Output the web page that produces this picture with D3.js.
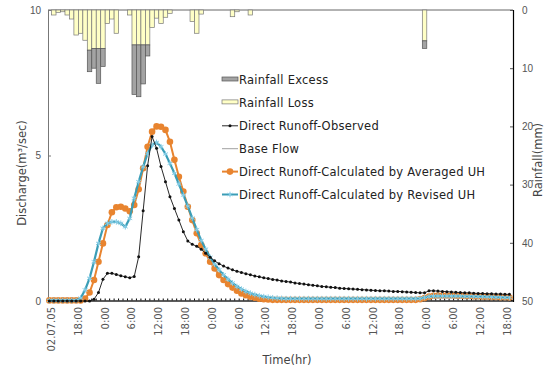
<!DOCTYPE html>
<html>
<head>
<meta charset="utf-8">
<script src="https://cdn.jsdelivr.net/npm/d3@7/dist/d3.min.js"></script>
<style>
  html, body { margin: 0; padding: 0; background: #fff; }
  svg { display: block; font-family: "DejaVu Sans", sans-serif; }
  .tick-label { fill: #555; font-size: 10px; }
  .axis-title { fill: #444; font-size: 11.5px; }
  .legend-text { fill: #222; font-size: 11.5px; letter-spacing: 0.25px; }
</style>
</head>
<body>
<div id="chart"></div>
<script>
'use strict';

// time axis labels, one every 6 hours
var timeLabels = ['02.07.05', '18:00', '0:00', '6:00', '12:00', '18:00', '0:00', '6:00', '12:00',
                  '18:00', '0:00', '6:00', '12:00', '18:00', '0:00', '6:00', '12:00', '18:00'];

// rainfall (mm), hourly bars
var rainHour   = [1, 2, 3, 4, 5, 6, 7, 8, 9, 10, 11, 12, 13, 14, 15, 18, 19, 20, 21, 22, 23, 24, 25, 26, 27, 32, 33, 34, 41, 42, 45, 84];
var rainLoss   = [0.86, 0.4, 0.3, 0.86, 1.55, 4.3, 4.0, 5.2, 6.9, 6.6, 6.6, 6.6, 2.3, 1.55, 4.0, 0.86, 6.0, 6.0, 6.0, 6.0, 3.0, 1.4, 2.3, 1.25, 0.57, 2.0, 4.0, 0.7, 1.15, 0.3, 0.86, 5.3];
var rainExcess = [0, 0, 0, 0, 0, 0, 0, 0, 3.7, 3.4, 6.0, 3.1, 0, 0, 0, 0, 8.5, 8.9, 6.7, 1.9, 0, 0, 0, 0, 0, 0, 0, 0, 0, 0, 0, 1.3];

// discharge (m3/sec), hourly from hour 0
var observed = [
  0, 0, 0, 0, 0, 0, 0, 0, 0, 0,
  0.06, 0.29, 0.75, 0.95, 0.95, 0.91, 0.87, 0.83, 0.8, 0.84,
  1.52, 3.1, 4.65, 5.65, 5.25, 4.62, 4.1, 3.58, 3.18, 2.78,
  2.38, 2.06, 1.95, 1.88, 1.78, 1.64, 1.5, 1.38, 1.28, 1.2,
  1.13, 1.07, 1.02, 0.98, 0.94, 0.9, 0.86, 0.83, 0.8, 0.77,
  0.74, 0.72, 0.69, 0.67, 0.65, 0.62, 0.6, 0.58, 0.56, 0.54,
  0.52, 0.5, 0.49, 0.47, 0.46, 0.44, 0.43, 0.42, 0.41, 0.4,
  0.39, 0.38, 0.37, 0.36, 0.35, 0.35, 0.34, 0.33, 0.33, 0.32,
  0.31, 0.3, 0.29, 0.28, 0.28, 0.35, 0.35, 0.34, 0.33, 0.32,
  0.31, 0.3, 0.29, 0.28, 0.28, 0.27, 0.26, 0.26, 0.25, 0.25,
  0.24, 0.24, 0.23, 0.23
];

var baseFlow = [0, 0];

var calcAveraged = [
  0.02, 0.02, 0.02, 0.02, 0.02, 0.02, 0.02, 0.02, 0.08, 0.29,
  0.72, 1.35, 1.98, 2.61, 3.05, 3.22, 3.24, 3.18, 3.08, 3.3,
  3.84, 4.56, 5.3, 5.82, 6.0, 5.99, 5.88, 5.47, 4.85, 4.27,
  3.76, 3.24, 2.78, 2.33, 1.92, 1.64, 1.35, 1.12, 0.89, 0.72,
  0.58, 0.46, 0.35, 0.26, 0.2, 0.15, 0.11, 0.08, 0.06, 0.05,
  0.04, 0.04, 0.04, 0.04, 0.04, 0.04, 0.04, 0.04, 0.04, 0.04,
  0.04, 0.04, 0.04, 0.04, 0.04, 0.04, 0.04, 0.04, 0.04, 0.04,
  0.04, 0.04, 0.04, 0.04, 0.04, 0.04, 0.04, 0.04, 0.04, 0.04,
  0.04, 0.04, 0.04, 0.06, 0.1, 0.15, 0.18, 0.19, 0.19, 0.19,
  0.19, 0.18, 0.18, 0.17, 0.17, 0.16, 0.16, 0.15, 0.15, 0.14,
  0.14, 0.13, 0.13, 0.12
];

var calcRevised = [
  0.02, 0.02, 0.02, 0.02, 0.02, 0.02, 0.02, 0.1, 0.38, 0.78,
  1.35, 1.98, 2.5, 2.67, 2.72, 2.72, 2.67, 2.55, 2.84, 3.53,
  4.1, 4.61, 5.07, 5.36, 5.45, 5.3, 5.05, 4.73, 4.39, 4.02,
  3.64, 3.26, 2.85, 2.45, 2.08, 1.78, 1.5, 1.27, 1.07, 0.9,
  0.75, 0.62, 0.5, 0.41, 0.33, 0.27, 0.22, 0.18, 0.15, 0.13,
  0.11, 0.1, 0.09, 0.08, 0.08, 0.08, 0.08, 0.08, 0.08, 0.08,
  0.08, 0.08, 0.08, 0.08, 0.08, 0.08, 0.08, 0.08, 0.08, 0.08,
  0.08, 0.08, 0.08, 0.08, 0.08, 0.08, 0.08, 0.08, 0.08, 0.08,
  0.08, 0.08, 0.08, 0.09, 0.12, 0.15, 0.17, 0.17, 0.17, 0.17,
  0.17, 0.17, 0.17, 0.16, 0.16, 0.16, 0.15, 0.15, 0.14, 0.14,
  0.13, 0.13, 0.12, 0.12
];

var legendItems = [
  'Rainfall Excess',
  'Rainfall Loss',
  'Direct Runoff-Observed',
  'Base Flow',
  'Direct Runoff-Calculated by Averaged UH',
  'Direct Runoff-Calculated by Revised UH'
];

var colors = {
  excess: '#a3a3a3',
  loss: '#ffffc6',
  observed: '#111',
  base: '#888',
  averaged: '#e8842f',
  revised: '#3a9db6',
  revisedMark: '#86cde6'
};

draw();

function draw() {

  var width = 544, height = 373;
  var left = 48, right = 513, top = 10, bottom = 301;

  var svg = d3.select('#chart').html('').append('svg')
      .attr('width', width)
      .attr('height', height);

  var x = d3.scaleLinear().domain([-0.3, 103.8]).range([left, right]);
  var yQ = d3.scaleLinear().domain([0, 10]).range([bottom, top]);
  var yR = d3.scaleLinear().domain([0, 50]).range([top, bottom]);

  var hours = d3.range(observed.length);
  var bw = x(1) - x(0);

  // frame
  svg.append('line')
    .attr('x1', left).attr('x2', right)
    .attr('y1', top).attr('y2', top)
    .attr('stroke', '#666').attr('stroke-width', 1);

  // rainfall bars, loss on top, excess below
  var rain = svg.append('g');
  rain.selectAll('rect.loss')
      .data(rainHour)
    .enter().append('rect')
      .attr('class', 'loss')
      .attr('x', function(d) { return x(d - 0.5); })
      .attr('width', bw)
      .attr('y', yR(0))
      .attr('height', function(d, i) { return yR(rainLoss[i]) - yR(0); })
      .attr('fill', colors.loss)
      .attr('stroke', '#777')
      .attr('stroke-width', 0.7);

  rain.selectAll('rect.excess')
      .data(rainHour.filter(function(d, i) { return rainExcess[i] > 0; }))
    .enter().append('rect')
      .attr('class', 'excess')
      .attr('x', function(d) { return x(d - 0.5); })
      .attr('width', bw)
      .attr('y', function(d) { var i = rainHour.indexOf(d); return yR(rainLoss[i]); })
      .attr('height', function(d) {
        var i = rainHour.indexOf(d);
        return yR(rainLoss[i] + rainExcess[i]) - yR(rainLoss[i]);
      })
      .attr('fill', colors.excess)
      .attr('stroke', '#555')
      .attr('stroke-width', 0.7);

  // x axis with hourly minor ticks
  var xAxis = svg.append('g');
  xAxis.append('line')
    .attr('x1', left).attr('x2', right)
    .attr('y1', bottom).attr('y2', bottom)
    .attr('stroke', '#000').attr('stroke-width', 1.5);
  xAxis.selectAll('line.minor')
      .data(d3.range(0, 104))
    .enter().append('line')
      .attr('class', 'minor')
      .attr('x1', function(d) { return x(d + 0.5); })
      .attr('x2', function(d) { return x(d + 0.5); })
      .attr('y1', bottom).attr('y2', bottom - 2.5)
      .attr('stroke', '#000').attr('stroke-width', 1);

  xAxis.selectAll('text')
      .data(timeLabels)
    .enter().append('text')
      .attr('class', 'tick-label')
      .attr('transform', function(d, i) {
        return 'translate(' + (x(i * 6 + 0.5) + 3.5) + ',' + (bottom + 6) + ') rotate(-90)';
      })
      .attr('text-anchor', 'end')
      .text(function(d) { return d; });

  // left axis
  var yAxisL = svg.append('g')
      .attr('transform', 'translate(' + left + ',0)')
      .call(d3.axisLeft(yQ).tickValues([0, 5, 10]).tickSize(-3).tickPadding(7));
  yAxisL.select('.domain').attr('stroke', '#777');
  yAxisL.selectAll('.tick line').attr('stroke', '#777');
  yAxisL.selectAll('.tick text').attr('class', 'tick-label');

  // right axis
  var yAxisR = svg.append('g')
      .attr('transform', 'translate(' + right + ',0)')
      .call(d3.axisRight(yR).tickValues([0, 10, 20, 30, 40, 50]).tickSize(-3).tickPadding(9));
  yAxisR.select('.domain').attr('stroke', '#000').attr('stroke-width', 1.2);
  yAxisR.selectAll('.tick line').attr('stroke', '#555');
  yAxisR.selectAll('.tick text').attr('class', 'tick-label');
  svg.selectAll('.tick text').attr('font-family', null).attr('font-size', null);

  var line = function(series) {
    return d3.line()
      .x(function(d, i) { return x(i); })
      .y(function(d) { return yQ(d); })(series);
  };

  // base flow
  svg.append('line')
    .attr('x1', x(0)).attr('x2', x(hours.length - 1))
    .attr('y1', yQ(baseFlow[0])).attr('y2', yQ(baseFlow[1]))
    .attr('stroke', colors.base).attr('stroke-width', 0.8);

  // averaged UH
  svg.append('path')
    .attr('d', line(calcAveraged))
    .attr('fill', 'none')
    .attr('stroke', colors.averaged)
    .attr('stroke-width', 2);
  svg.append('g').selectAll('circle')
      .data(calcAveraged)
    .enter().append('circle')
      .attr('cx', function(d, i) { return x(i); })
      .attr('cy', function(d) { return yQ(d); })
      .attr('r', 3.3)
      .attr('fill', colors.averaged);

  // revised UH
  svg.append('path')
    .attr('d', line(calcRevised))
    .attr('fill', 'none')
    .attr('stroke', colors.revised)
    .attr('stroke-width', 2.2);
  var star = d3.symbol().type(d3.symbolAsterisk).size(22);
  svg.append('g').selectAll('path')
      .data(calcRevised)
    .enter().append('path')
      .attr('transform', function(d, i) { return 'translate(' + x(i) + ',' + yQ(d) + ')'; })
      .attr('d', star)
      .attr('fill', 'none')
      .attr('stroke', colors.revisedMark)
      .attr('stroke-width', 1);

  // observed
  svg.append('path')
    .attr('d', line(observed))
    .attr('fill', 'none')
    .attr('stroke', colors.observed)
    .attr('stroke-width', 0.9);
  svg.append('g').selectAll('circle')
      .data(observed)
    .enter().append('circle')
      .attr('cx', function(d, i) { return x(i); })
      .attr('cy', function(d) { return yQ(d); })
      .attr('r', 1.5)
      .attr('fill', colors.observed);

  // axis titles
  svg.append('text')
    .attr('class', 'axis-title')
    .attr('transform', 'translate(26,173) rotate(-90)')
    .attr('text-anchor', 'middle')
    .text('Discharge(m³/sec)');

  svg.append('text')
    .attr('class', 'axis-title')
    .attr('transform', 'translate(542,160) rotate(-90)')
    .attr('text-anchor', 'middle')
    .text('Rainfall(mm)');

  svg.append('text')
    .attr('class', 'axis-title')
    .attr('x', 287).attr('y', 364)
    .attr('text-anchor', 'middle')
    .text('Time(hr)');

  // legend
  var legend = svg.append('g').attr('transform', 'translate(222,80)');
  var rowH = 22.9;
  var rows = legend.selectAll('g')
      .data(legendItems)
    .enter().append('g')
      .attr('transform', function(d, i) { return 'translate(0,' + (i * rowH) + ')'; });

  rows.append('text')
    .attr('class', 'legend-text')
    .attr('x', 17).attr('y', 4)
    .text(function(d) { return d; });

  rows.each(function(d, i) {
    var g = d3.select(this);
    if (i < 2) {
      g.append('rect')
        .attr('x', 0).attr('y', -3).attr('width', 16).attr('height', 4)
        .attr('fill', i === 0 ? colors.excess : colors.loss)
        .attr('stroke', i === 0 ? '#555' : '#777')
        .attr('stroke-width', 0.7);
      return;
    }
    var c = [colors.observed, colors.base, colors.averaged, colors.revised][i - 2];
    g.append('line')
      .attr('x1', 0).attr('x2', 16).attr('y1', 0).attr('y2', 0)
      .attr('stroke', c)
      .attr('stroke-width', i === 2 ? 0.9 : i === 3 ? 0.8 : 2);
    if (i === 2) {
      g.append('circle').attr('cx', 8).attr('cy', 0).attr('r', 1.5).attr('fill', c);
    } else if (i === 4) {
      g.append('circle').attr('cx', 8).attr('cy', 0).attr('r', 3.3).attr('fill', c);
    } else if (i === 5) {
      g.append('path').attr('transform', 'translate(8,0)').attr('d', star)
        .attr('fill', 'none').attr('stroke', colors.revisedMark).attr('stroke-width', 1);
    }
  });
}
</script>
</body>
</html>
